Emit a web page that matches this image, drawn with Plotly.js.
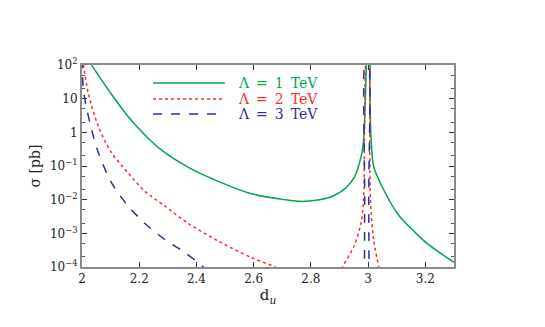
<!DOCTYPE html>
<html>
<head>
<meta charset="utf-8">
<script src="https://cdn.plot.ly/plotly-3.0.1.min.js"></script>
<style>
  html, body { margin: 0; padding: 0; background: #fff; }
  #chart { width: 545px; height: 327px; }
</style>
</head>
<body>
<div id="chart"></div>
<script>
// Lambda = 1 TeV (solid green)
const dU1 = [2.03, 2.034, 2.057, 2.103, 2.161, 2.219, 2.277, 2.37, 2.476, 2.592, 2.708, 2.761, 2.83,
  2.876, 2.922, 2.951, 2.968, 2.98, 2.985, 2.989, 2.993, 2.996, 3.004, 3.006, 3.008, 3.011, 3.019,
  3.048, 3.106, 3.164, 3.21, 3.255, 3.3];
const sigma1 = [130, 100, 50, 13.5, 2.95, 0.85, 0.30, 0.093, 0.035, 0.015, 0.010, 0.0089, 0.010,
  0.0126, 0.0224, 0.045, 0.11, 0.30, 0.76, 5, 60, 300, 300, 30, 2.0, 0.5, 0.098,
  0.025, 0.0035, 0.00107, 4.7e-4, 2.5e-4, 1.38e-4];

// Lambda = 2 TeV (dotted red)
const dU2 = [2.003, 2.005, 2.022, 2.057, 2.103, 2.161, 2.219, 2.289, 2.37, 2.476, 2.592, 2.674, 2.70,
  null, 2.90, 2.91, 2.951, 2.975, 2.984, 2.987, 2.99, 2.994, 3.002, 3.005, 3.008, 3.019, 3.037, 3.045];
const sigma2 = [150, 100, 14.5, 1.5, 0.25, 0.062, 0.018, 0.0065, 0.002, 5.9e-4, 1.9e-4, 1.0e-4, 7e-5,
  null, 6e-5, 1.0e-4, 4.2e-4, 2.0e-3, 0.01, 0.5, 50, 300, 300, 50, 0.01, 6.6e-4, 1.0e-4, 5e-5];

// Lambda = 3 TeV (dashed blue)
const dU3 = [2.001, 2.005, 2.028, 2.057, 2.103, 2.161, 2.219, 2.289, 2.359, 2.424, 2.44,
  null, 2.987, 2.988, 2.992, 2.999, 3.002, 3.003];
const sigma3 = [150, 18, 1.86, 0.25, 0.032, 0.0065, 0.002, 6.6e-4, 2.7e-4, 1.0e-4, 7e-5,
  null, 5e-5, 0.01, 300, 300, 0.01, 5e-5];

const xTicks = [2, 2.2, 2.4, 2.6, 2.8, 3, 3.2];
const yTicks = [1e-4, 1e-3, 1e-2, 1e-1, 1, 10, 100];
const yTickText = ["10<sup>−4</sup>", "10<sup>−3</sup>", "10<sup>−2</sup>", "10<sup>−1</sup>", "1", "10", "10<sup>2</sup>"];

const seriesNames = ["Λ\u2002=\u20021\u2002TeV", "Λ\u2002=\u20022\u2002TeV", "Λ\u2002=\u20023\u2002TeV"];
const colors = ["#00a651", "#ff2a2a", "#2e3192"];
const dashes = ["solid", "dot", "dash"];

const serif = "'DejaVu Serif', 'Liberation Serif', serif";

const traces = [[dU1, sigma1], [dU2, sigma2], [dU3, sigma3]].map(([x, y], i) => ({
  x: x,
  y: y,
  type: "scatter",
  mode: "lines",
  name: seriesNames[i],
  connectgaps: false,
  line: { color: colors[i], width: 1.5, dash: dashes[i], shape: "spline", smoothing: 0.8 },
}));

// hand-made legend, long line samples like the original figure
const legendY = [0.911, 0.832, 0.757];
const shapes = legendY.map((y, i) => ({
  type: "line",
  xref: "paper", yref: "paper",
  x0: 0.191, x1: 0.384, y0: y, y1: y,
  line: { color: colors[i], width: 1.5, dash: dashes[i] },
}));
const annotations = legendY.map((y, i) => ({
  xref: "paper", yref: "paper",
  x: 0.415, y: y,
  xanchor: "left", yanchor: "middle",
  text: seriesNames[i],
  showarrow: false,
  font: { family: serif, size: 14, color: colors[i] },
}));

const axisCommon = {
  showline: true,
  linecolor: "#8a8a8a",
  linewidth: 2,
  mirror: "ticks",
  ticks: "inside",
  ticklen: 5,
  tickcolor: "#333",
  showgrid: false,
  zeroline: false,
  tickfont: { family: serif, size: 12, color: "#222" },
};

const layout = {
  width: 545,
  height: 327,
  margin: { l: 82, r: 91, t: 65, b: 60 },
  paper_bgcolor: "#fff",
  plot_bgcolor: "#fff",
  showlegend: false,
  xaxis: Object.assign({}, axisCommon, {
    range: [2, 3.3],
    tickvals: xTicks,
    ticktext: xTicks.map(String),
    title: { text: "d<sub><i>u</i></sub>", font: { family: serif, size: 15, color: "#222" }, standoff: 4 },
  }),
  yaxis: Object.assign({}, axisCommon, {
    type: "log",
    range: [-4, 2],
    tickvals: yTicks,
    ticktext: yTickText,
    minor: { ticks: "inside", ticklen: 3, tickcolor: "#555", dtick: "D2" },
    title: { text: "σ [pb]", font: { family: serif, size: 14, color: "#222" }, standoff: 6 },
  }),
  shapes: shapes,
  annotations: annotations,
};

Plotly.newPlot("chart", traces, layout, { displayModeBar: false });
</script>
</body>
</html>
